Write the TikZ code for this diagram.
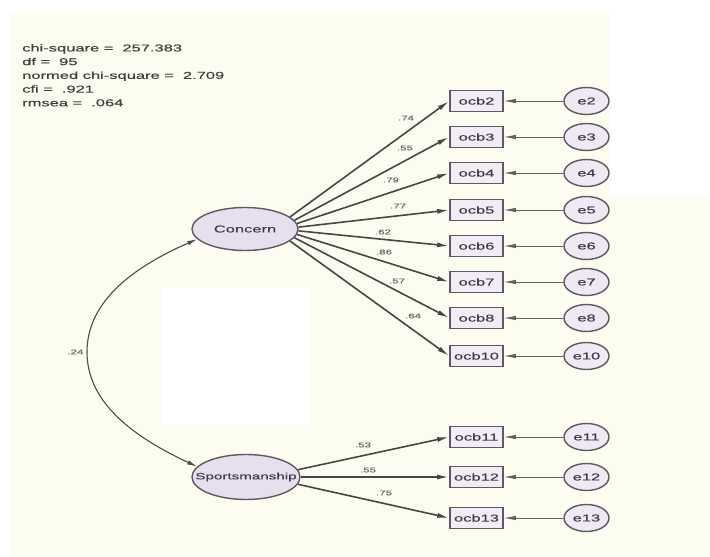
\documentclass[tikz,border=0pt]{standalone}
\usepackage{fontspec}
\setmainfont{Liberation Sans}
\newfontfamily\amosfont[FakeStretch=1.65,FakeBold=0.4]{Liberation Sans}
\usetikzlibrary{arrows.meta,positioning,shapes.geometric}
\definecolor{creamc}{RGB}{252,252,241}
\definecolor{lavc}{RGB}{231,223,237}
\definecolor{edgec}{RGB}{92,90,98}
\definecolor{inkc}{RGB}{64,60,80}

\begin{document}
\begin{tikzpicture}[x=1pt,y=1pt,
  font=\amosfont\fontsize{10}{12}\selectfont,text=inkc,
  latent/.style={ellipse,draw=edgec,line width=1.4pt,fill=lavc,inner sep=0pt},
  obsbox/.style={rectangle,draw=edgec,line width=1.6pt,fill=lavc!55,
                 minimum width=53pt,minimum height=21pt,inner sep=0pt},
  errnode/.style={ellipse,draw=edgec,line width=1.4pt,fill=lavc!70,
                  minimum width=45pt,minimum height=27pt,inner sep=0pt},
  loadarrow/.style={-{Latex[length=12pt,width=5pt]},line width=1.6pt,draw=black!72},
  errarrow/.style={-{Latex[length=12pt,width=4.5pt]},line width=0.8pt,draw=black!62},
  coef/.style={font=\amosfont\fontsize{7}{8}\selectfont,text=black!58,inner sep=1pt}]

% page and scanned background
\fill[white] (0,0) rectangle (710,557);
\fill[creamc] (11,0) rectangle (610,544);
\fill[creamc] (610,0) rectangle (710,362);
\fill[white] (161,132) rectangle (310,270);
\useasboundingbox (0,0) rectangle (710,557);

% fit statistics
\node[anchor=north west,align=left,inner sep=0pt,text=black!75,
      font=\amosfont\fontsize{10}{13.7}\selectfont] (fit) at (22,513) {%
chi-square =\hspace{9pt}257.383\\
df =\hspace{9pt}95\\
normed chi-square =\hspace{9pt}2.709\\
cfi =\hspace{9pt}.921\\
rmsea =\hspace{9pt}.064};

% factors
\node[latent,minimum width=106pt,minimum height=43pt] (concern) at (245,328) {Concern};
\node[latent,minimum width=108pt,minimum height=45pt,inner xsep=-17pt,
      font=\amosfont\fontsize{9.2}{11}\selectfont]
  (sport) at (246,80) {Sportsmanship};

% items and their errors
\foreach \n/\y in {2/456,3/420,4/384,5/347,6/311,7/275,8/239,10/201,
                   11/120,12/80,13/39}{
  \node[obsbox] (ocb\n) at (476.5,\y) {ocb\n};
  \node[errnode,right=59.5pt of ocb\n] (e\n) {e\n};
  \draw[errarrow] (e\n) -- (ocb\n);
}

% loadings
\foreach \n/\w/\lx/\ly/\a in {2/.74/406/439/15,3/.55/405/409/10.7,
    4/.79/391/377/6.4,5/.77/398/351/2.1,6/.62/383/325/-2.1,
    7/.86/384/305/-6.4,8/.57/397/276/-10.7,10/.64/413/241/-15}{
  \draw[loadarrow] (concern.\a) -- (ocb\n.west);
  \node[coef] (w\n) at (\lx,\ly) {\w};
}
\foreach \n/\w/\lx/\ly/\a in {11/.53/363/112/8,12/.55/368/87/0,13/.75/384/64/-8}{
  \draw[loadarrow] (sport.\a) -- (ocb\n.west);
  \node[coef] (w\n) at (\lx,\ly) {\w};
}

% correlation
\coordinate (bend) at (87,205);
\draw[{Latex[length=10pt,width=4.5pt]}-{Latex[length=10pt,width=4.5pt]},
      line width=1.1pt,draw=black!70]
  (concern.192) .. controls (138,292) and (87,258) .. (bend)
  node[coef,left=2pt] (r) {.24}
  .. controls (87,152) and (138,118) .. (sport.168);
\end{tikzpicture}
\end{document}
